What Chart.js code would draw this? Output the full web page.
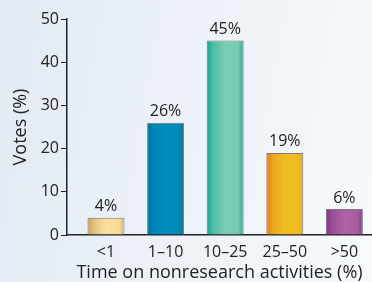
<!DOCTYPE html>
<html><head><meta charset="utf-8">
<script src="https://cdn.jsdelivr.net/npm/chart.js@4/dist/chart.umd.min.js"></script>
<style>
html,body{margin:0;padding:0;}
body{width:372px;height:282px;background:linear-gradient(100deg,#e3eaf4 0%,#edf2f8 50%,#f7f9fc 100%);}
#wrap{width:372px;height:282px;position:relative;}
</style></head>
<body><div id="wrap"><canvas id="c" width="372" height="282"></canvas></div>
<script>
const categories = ["<1", "1\u201310", "10\u201325", "25\u201350", ">50"];
const votes = [4, 26, 45, 19, 6];
const yTicks = [0, 10, 20, 30, 40, 50];
const barStops = [
  ["#c2a060", "#e4c27a", "#f9e0a1", "#f6da96", "#d9ba72"],
  ["#006c96", "#0086b6", "#008cbc", "#008aba", "#0078a6"],
  ["#0fa893", "#4dbfa6", "#7bcdb4", "#78cab1", "#1eae9a"],
  ["#de7420", "#eaa820", "#f0be22", "#eebc22", "#e4ac26"],
  ["#7c3880", "#9e4e98", "#b062a8", "#aa5ca2", "#843f86"]
];
const FONT = "'Open Sans', sans-serif";
const HALF = 0.31;

function barFill(ctx) {
  const chart = ctx.chart;
  const xs = chart.scales.x;
  const i = ctx.dataIndex;
  const stops = barStops[i] || barStops[0];
  if (!xs) return stops[2];
  const x0 = xs.getPixelForValue(i - HALF), x1 = xs.getPixelForValue(i + HALF);
  if (!isFinite(x0) || !isFinite(x1)) return stops[2];
  const g = chart.ctx.createLinearGradient(x0, 0, x1, 0);
  const pos = [0, 0.18, 0.5, 0.85, 1];
  stops.forEach((c, k) => g.addColorStop(pos[k], c));
  return g;
}

const valueLabels = {
  id: 'valueLabels',
  afterDatasetsDraw(chart) {
    const ctx = chart.ctx;
    const meta = chart.getDatasetMeta(0);
    ctx.save();
    ctx.font = "16px " + FONT;
    ctx.fillStyle = "#222";
    ctx.textAlign = "center";
    ctx.textBaseline = "bottom";
    meta.data.forEach((el, i) => {
      ctx.fillText(votes[i] + "%", el.x, el.y - 3);
    });
    ctx.restore();
  }
};

new Chart(document.getElementById('c'), {
  type: 'bar',
  data: {
    datasets: [{
      data: votes.map((v, i) => ({x: i, y: v})),
      backgroundColor: barFill,
      borderColor: "#7a7a7a",
      borderWidth: 1,
      borderSkipped: 'bottom',
      barPercentage: 0.62,
      categoryPercentage: 1.0
    }]
  },
  options: {
    responsive: false,
    animation: false,
    devicePixelRatio: 1,
    layout: {padding: {top: 19, right: 0, left: 0, bottom: 0}},
    plugins: {legend: {display: false}, tooltip: {enabled: false}},
    scales: {
      x: {
        type: 'linear',
        offset: false,
        min: -0.654,
        max: 4.463,
        afterBuildTicks(s) { s.ticks = categories.map((c, i) => ({value: i})); },
        afterFit(s) { s.height = 47; },
        ticks: {
          callback: (v) => categories[v],
          font: {family: FONT, size: 16},
          color: "#222",
          padding: 8,
          autoSkip: false,
          maxRotation: 0
        },
        grid: {display: true, offset: false, drawOnChartArea: false, drawTicks: false},
        border: {display: true, color: "#222", width: 1.5},
        title: {
          display: true,
          text: "Time on nonresearch activities (%)",
          font: {family: FONT, size: 18},
          color: "#222",
          padding: {top: 0, bottom: -2}
        }
      },
      y: {
        min: 0, max: 50,
        afterBuildTicks(s) { s.ticks = yTicks.map(v => ({value: v})); },
        afterFit(s) { s.width = 67; },
        ticks: {
          font: {family: FONT, size: 16},
          color: "#222",
          padding: 2
        },
        grid: {display: true, drawOnChartArea: false, drawTicks: true, tickLength: 6, color: "#222", tickWidth: 1},
        border: {display: true, color: "#222", width: 1.5},
        title: {
          display: true,
          text: "Votes (%)",
          font: {family: FONT, size: 18},
          color: "#222",
          padding: {top: 10, bottom: 0}
        }
      }
    }
  },
  plugins: [valueLabels]
});
</script></body></html>
